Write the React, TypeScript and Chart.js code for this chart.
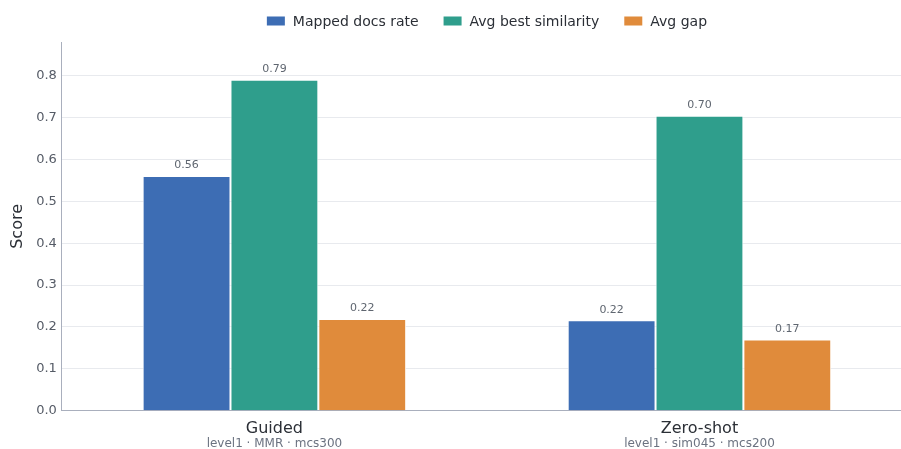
import React, { useEffect, useRef } from "react";
import { Chart, registerables } from "chart.js";

Chart.register(...registerables);

const categories = ["Guided", "Zero-shot"];
const subtitles = ["level1 · MMR · mcs300", "level1 · sim045 · mcs200"];
const mappedDocsRate = [0.56, 0.216];
const avgBestSimilarity = [0.79, 0.704];
const avgGap = [0.219, 0.17];
const seriesNames = ["Mapped docs rate", "Avg best similarity", "Avg gap"];
const seriesColors = ["#3d6db4", "#2f9e8c", "#e08b3b"];

const FONT = "'DejaVu Sans', sans-serif";

const valueLabels = {
  id: "valueLabels",
  afterDatasetsDraw(chart: any) {
    const ctx = chart.ctx;
    ctx.save();
    ctx.font = `11px ${FONT}`;
    ctx.fillStyle = "#5f6670";
    ctx.textAlign = "center";
    ctx.textBaseline = "bottom";
    chart.data.datasets.forEach((ds: any, i: number) => {
      const meta = chart.getDatasetMeta(i);
      meta.data.forEach((bar: any, j: number) => {
        ctx.fillText(Number(ds.data[j]).toFixed(2), bar.x, bar.y - 5);
      });
    });
    ctx.restore();
  },
};

const subLabels = {
  id: "subLabels",
  afterDraw(chart: any) {
    const ctx = chart.ctx;
    const xs = chart.scales.x;
    ctx.save();
    ctx.font = `12px ${FONT}`;
    ctx.fillStyle = "#6b7280";
    ctx.textAlign = "center";
    ctx.textBaseline = "middle";
    subtitles.forEach((s, i) => {
      ctx.fillText(s, xs.getPixelForTick(i), xs.top + 33);
    });
    ctx.restore();
  },
};

const customLegend = {
  id: "customLegend",
  afterDraw(chart: any) {
    const ctx = chart.ctx;
    const area = chart.chartArea;
    ctx.save();
    ctx.font = `14px ${FONT}`;
    const boxW = 18, boxH = 9, gapText = 8, gapItem = 25;
    const widths = seriesNames.map((n) => boxW + gapText + ctx.measureText(n).width);
    const total = widths.reduce((a, b) => a + b, 0) + gapItem * (widths.length - 1);
    let x = (area.left + area.right) / 2 - total / 2;
    const cy = 21;
    seriesNames.forEach((n, i) => {
      ctx.fillStyle = seriesColors[i];
      ctx.fillRect(x, cy - boxH / 2, boxW, boxH);
      ctx.fillStyle = "#2b2f36";
      ctx.textAlign = "left";
      ctx.textBaseline = "middle";
      ctx.fillText(n, x + boxW + gapText, cy + 1);
      x += widths[i] + gapItem;
    });
    ctx.restore();
  },
};

export default function App() {
  const ref = useRef<HTMLCanvasElement>(null);
  useEffect(() => {
    const chart = new Chart(ref.current!, {
      type: "bar",
      data: {
        labels: categories,
        datasets: [mappedDocsRate, avgBestSimilarity, avgGap].map((d, i) => ({
          label: seriesNames[i],
          data: d,
          backgroundColor: seriesColors[i],
          borderColor: "#ffffff",
          borderWidth: 1,
          categoryPercentage: 0.62,
          barPercentage: 1,
        })),
      },
      options: {
        animation: false,
        responsive: false,
        layout: { padding: { left: 4, right: 1, top: 42, bottom: 3 } },
        plugins: {
          legend: { display: false },
          tooltip: { enabled: false },
        },
        scales: {
          x: {
            grid: { display: false, drawTicks: false },
            border: { color: "#a9afbd", width: 1 },
            ticks: { font: { family: FONT, size: 16 }, color: "#2b2f36", padding: 8 },
          },
          y: {
            min: 0,
            max: 0.88,
            grid: { color: "#e8eaee", drawTicks: false },
            border: { color: "#a9afbd", width: 1 },
            ticks: {
              stepSize: 0.1,
              font: { family: FONT, size: 13 },
              color: "#555b66",
              padding: 5,
              callback: (v: any) => Number(v).toFixed(1),
            },
            afterBuildTicks: (scale: any) => {
              scale.ticks = scale.ticks.filter(
                (t: any) => Math.abs(t.value * 10 - Math.round(t.value * 10)) < 1e-6
              );
            },
            title: {
              display: true,
              text: "Score",
              font: { family: FONT, size: 16 },
              color: "#2b2f36",
            },
          },
        },
      },
      plugins: [valueLabels, subLabels, customLegend],
    });
    return () => chart.destroy();
  }, []);
  return (
    <div style={{ position: "absolute", left: 0, top: 0, width: 901, height: 449, overflow: "hidden" }}>
      <canvas ref={ref} width={913} height={449} style={{ width: 913, height: 449, display: "block" }} />
    </div>
  );
}
